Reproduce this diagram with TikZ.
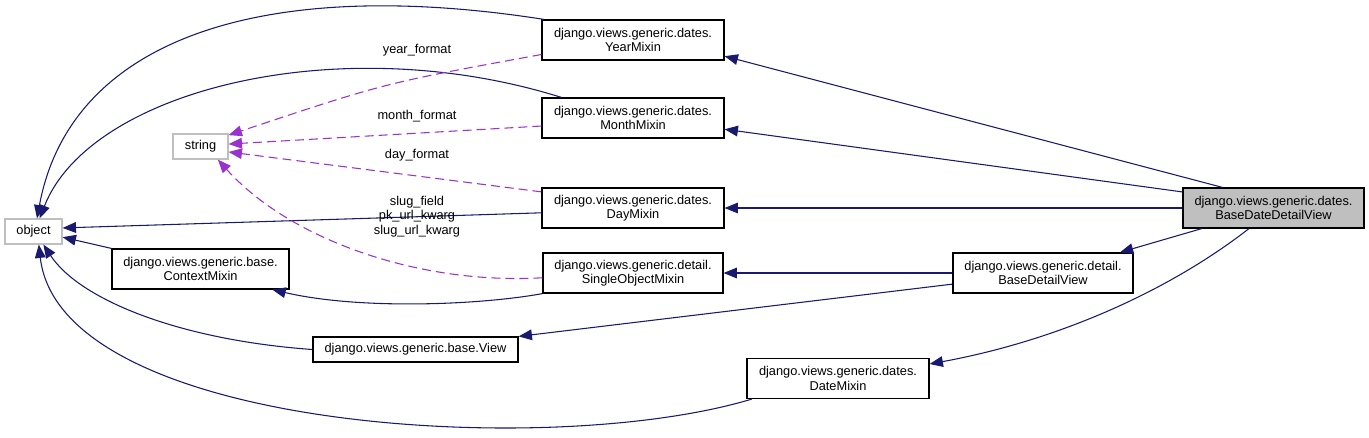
\documentclass[tikz,border=0pt]{standalone}
\usepackage{fontspec}
\setmainfont{Liberation Sans}
\usetikzlibrary{arrows.meta}
\definecolor{navy}{HTML}{191970}
\definecolor{orchid}{HTML}{9A32CD}
\definecolor{lgray}{HTML}{BFBFBF}
\definecolor{selgray}{HTML}{BFBFBF}
\begin{document}
\begin{tikzpicture}[x=0.75pt,y=-0.75pt, font=\fontsize{9.6}{10.9}\selectfont,
 cls/.style={draw=black, line width=0.9pt, fill=white, inner sep=0pt, align=center, minimum height=30pt},
 ext/.style={draw=lgray, line width=0.9pt, fill=white, inner sep=0pt, minimum height=18.75pt},
 inh/.style={navy, line width=0.8pt, -{Triangle[length=10pt,width=8pt]}},
 use/.style={orchid, line width=0.8pt, dash pattern=on 6.75pt off 3.75pt, -{Triangle[length=10pt,width=8pt]}},
 lbl/.style={inner sep=0pt, align=center}]
\useasboundingbox (0,0) rectangle (1369,437);
% nodes
\node[ext, minimum width=42.75pt] (object) at (33.5,231.5) {object};
\node[ext, minimum width=41.25pt] (string) at (200.5,146.5) {string};
\node[cls, minimum width=132.75pt] (ctx) at (200.5,269) {django.views.generic.base.\\ContextMixin};
\node[cls, minimum width=153.75pt, minimum height=18.75pt] (view) at (415.5,349.5) {django.views.generic.base.View};
\node[cls, minimum width=136.5pt] (year) at (633,40) {django.views.generic.dates.\\YearMixin};
\node[cls, minimum width=136.5pt] (month) at (633,118) {django.views.generic.dates.\\MonthMixin};
\node[cls, minimum width=136.5pt] (day) at (633,208) {django.views.generic.dates.\\DayMixin};
\node[cls, minimum width=135pt] (single) at (633,273) {django.views.generic.detail.\\SingleObjectMixin};
\node[cls, minimum width=136.5pt] (date) at (838,378.5) {django.views.generic.dates.\\DateMixin};
\node[cls, minimum width=135pt] (bdv) at (1043,273) {django.views.generic.detail.\\BaseDetailView};
\node[cls, minimum width=135.75pt, fill=selgray] (bddv) at (1273.5,208) {django.views.generic.dates.\\BaseDateDetailView};
% inheritance edges
\draw[inh] ([xshift=2pt]year.north west) .. controls (260,-25) and (70,40) .. (object.75);
\draw[inh] ([xshift=15pt]month.north west) .. controls (340,28) and (90,90) .. (object.65);
\draw[inh] (day.183) -- (object.7);
\draw[inh] (ctx.north west) -- (object.-11);
\draw[inh] (view.west) .. controls (180,340) and (80,300) .. (object.-53);
\draw[inh] ([xshift=4pt]date.south west) .. controls (550,460) and (60,430) .. (object.-68);
\draw[inh] (single.south west) .. controls (480,305) and (360,310) .. (ctx.-16);
\draw[inh] (bdv.west) -- (single.east);
\draw[inh] (bdv.-173) -- (view.north east);
\draw[inh] (bddv.158) -- (year.-10.6);
\draw[inh] (bddv.170.4) -- (month.-7.9);
\draw[inh] (bddv.west) -- (day.east);
\draw[inh] (bddv.-164.4) -- (bdv.15.5);
\draw[inh] (bddv.-140.8) .. controls (1170,290) and (1060,340) .. (date.9.7);
% usage edges
\draw[use] (year.-171.3) .. controls (385,83) .. (string.22);
\draw[use] (month.-175.6) -- (string.5);
\draw[use] (day.170.6) -- (string.-11);
\draw[use] (single.-177.5) .. controls (420,285) and (290,240) .. (string.-37);
% labels
\node[lbl] (lyear) at (417,50) {year\_format};
\node[lbl] (lmonth) at (417,116) {month\_format};
\node[lbl] (lday) at (417,155) {day\_format};
\node[lbl] (lslug) at (417,216.5) {slug\_field\\pk\_url\_kwarg\\slug\_url\_kwarg};
\end{tikzpicture}
\end{document}
